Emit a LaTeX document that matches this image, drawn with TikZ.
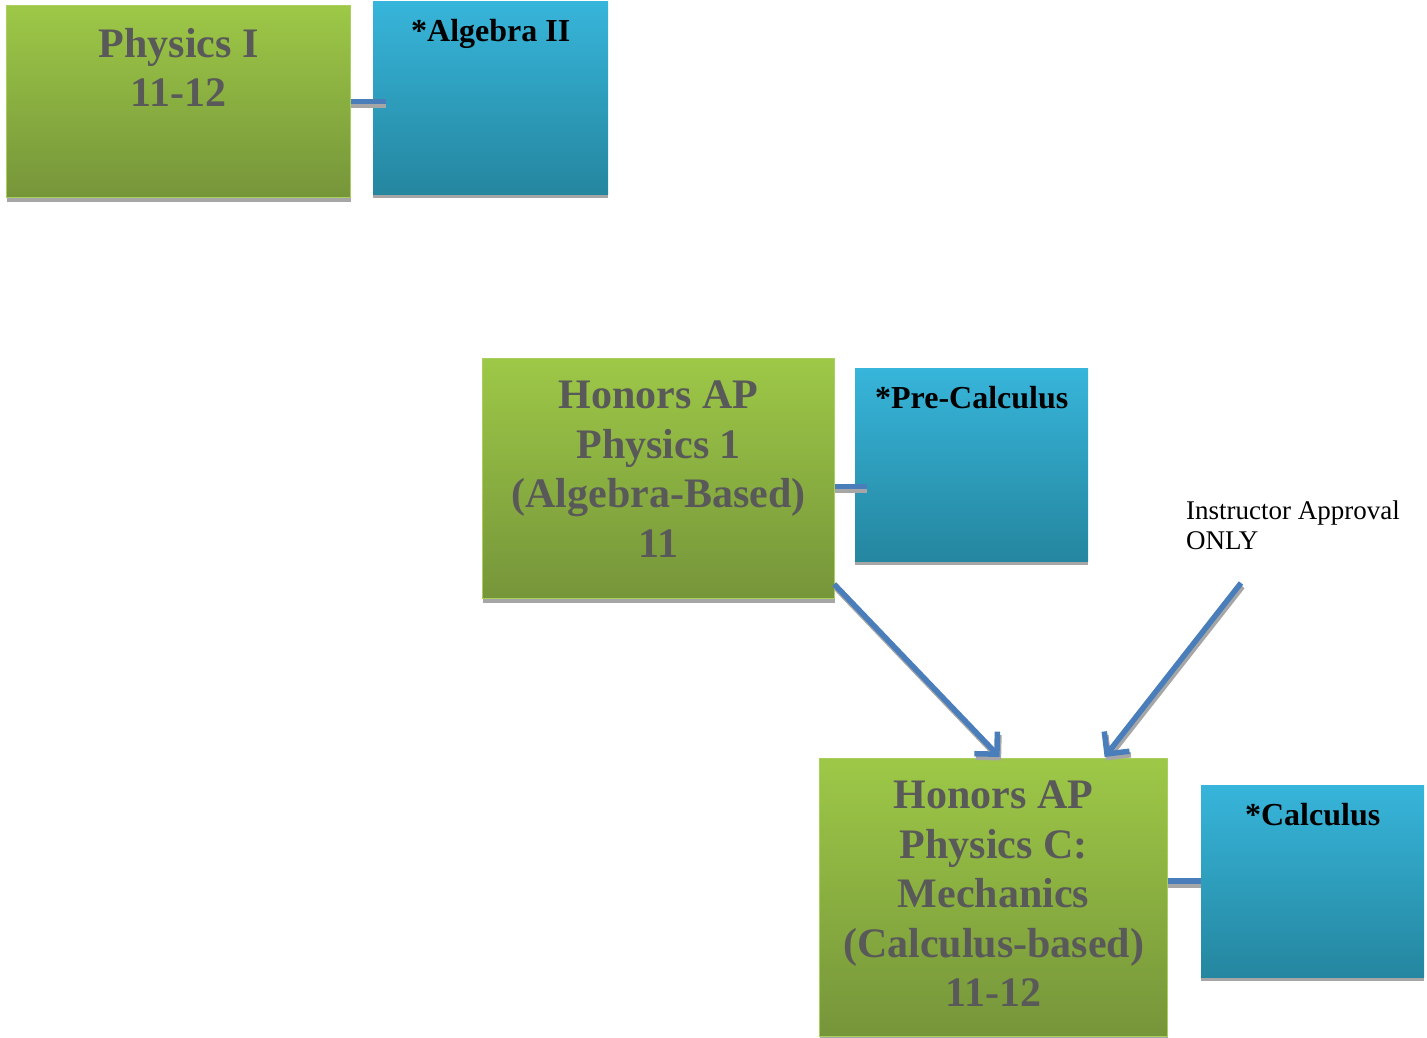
\documentclass[tikz,border=0pt]{standalone}
\usepackage{fontspec}
\setmainfont{Liberation Serif}
\usetikzlibrary{arrows.meta}
\definecolor{gtop}{HTML}{9DC847}
\definecolor{gbot}{HTML}{76953A}
\definecolor{btop}{HTML}{37B5DA}
\definecolor{bbot}{HTML}{25869F}
\definecolor{txtgray}{HTML}{595959}
\definecolor{shadowgray}{HTML}{A6A6A6}
\definecolor{conblue}{HTML}{4A7EBB}
\definecolor{gedge}{HTML}{A9D05F}
\begin{document}
\begin{tikzpicture}[x=1pt,y=-1pt,
  boxshadow/.style={preaction={fill=shadowgray,draw=none,transform canvas={yshift=-4pt}}},
  greenbox/.style={boxshadow,draw=gedge,line width=1.2pt,top color=gtop,bottom color=gbot,
    rectangle,inner sep=0pt,anchor=north west},
  bluebox/.style={boxshadow,draw=none,top color=btop,bottom color=bbot,
    rectangle,inner sep=0pt,anchor=north west},
  greentext/.style={anchor=north,inner sep=0pt,align=center,text=txtgray,
    font=\fontsize{42}{49.5}\selectfont\bfseries},
  bluetext/.style={anchor=north,inner sep=0pt,align=center,text=black,
    font=\fontsize{32}{36}\selectfont\bfseries},
  notetext/.style={anchor=north west,inner sep=0pt,align=left,text=black,
    font=\fontsize{27}{30}\selectfont},
  conn/.style={draw=conblue,line width=5.5pt,
    preaction={draw=shadowgray,line width=5.5pt,transform canvas={yshift=-4pt}}},
  arr/.style={draw=conblue,line width=5.5pt,line join=miter,
    -{Straight Barb[length=16pt,width=32pt]},
    preaction={draw=shadowgray,line width=5.5pt,transform canvas={shift={(1.5pt,-3.5pt)}}}}
]
\useasboundingbox (0,0) rectangle (1427,1038);

% boxes
\node[greenbox,minimum width=344pt,minimum height=192pt] (phys) at (6,5) {};
\node[bluebox,minimum width=235pt,minimum height=193pt] (alg) at (373,1) {};
\node[greenbox,minimum width=352pt,minimum height=240pt] (hap) at (482,358) {};
\node[bluebox,minimum width=233pt,minimum height=193pt] (pre) at (855,368) {};
\node[greenbox,minimum width=348pt,minimum height=278pt] (hapc) at (819,758) {};
\node[bluebox,minimum width=223pt,minimum height=192pt] (calc) at (1201,785) {};

% texts
\node[greentext] (physT) at ([yshift=-23pt]phys.north) {Physics I\\11-12};
\node[bluetext] (algT) at ([yshift=-18.5pt]alg.north) {*Algebra II};
\node[greentext] (hapT) at ([yshift=-23pt]hap.north) {Honors AP\\Physics 1\\(Algebra-Based)\\11};
\node[bluetext] (preT) at ([yshift=-18.5pt]pre.north) {*Pre-Calculus};
\node[greentext] (hapcT) at ([yshift=-23pt]hapc.north) {Honors AP\\Physics C:\\Mechanics\\(Calculus-based)\\11-12};
\node[bluetext] (calcT) at ([yshift=-18.5pt]calc.north) {*Calculus};
\node[notetext] (note) at (1186,501) {Instructor Approval\\ONLY};

% connectors
\coordinate (a1) at ([xshift=13pt]alg.west |- phys.east);
\draw[conn] (phys.east) -- (a1);
\coordinate (h1) at ([yshift=-8pt]hap.east);
\coordinate (p1) at ([xshift=12pt]pre.west |- h1);
\draw[conn] (h1) -- (p1);
\coordinate (c1) at (hapc.east |- calc.west);
\draw[conn] (c1) -- (calc.west);

% arrows
\coordinate (s1) at ([xshift=-1pt,yshift=15pt]hap.south east);
\coordinate (e1) at ([xshift=6pt,yshift=1pt]hapc.north);
\draw[arr] (s1) -- (e1);
\coordinate (s2) at (1241,583);
\coordinate (e2) at ([xshift=111pt,yshift=1pt]hapc.north);
\draw[arr] (s2) -- (e2);
\end{tikzpicture}
\end{document}
